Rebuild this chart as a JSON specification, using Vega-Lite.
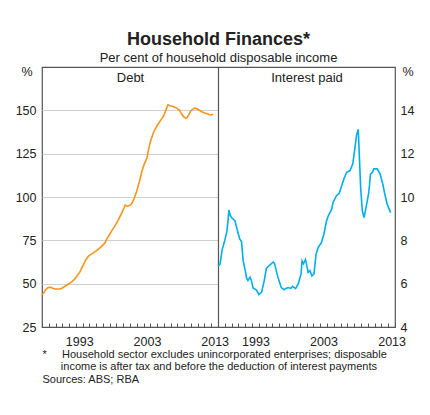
{
  "$schema": "https://vega.github.io/schema/vega-lite/v6.json",
  "autosize": {"type": "none"},
  "width": 353,
  "height": 260,
  "padding": {"left": 42, "top": 67, "right": 35, "bottom": 88},
  "background": "white",
  "title": {
    "text": "Household Finances*",
    "subtitle": "Per cent of household disposable income",
    "anchor": "middle",
    "frame": "group",
    "font": "Liberation Sans",
    "fontSize": 18,
    "fontWeight": "bold",
    "color": "#222",
    "subtitleFont": "Liberation Sans",
    "subtitleFontSize": 13,
    "subtitleColor": "#222",
    "subtitlePadding": 3,
    "offset": 0
  },
  "datasets": {
    "debt": [
      {"year": 1988.0, "value": 43.8}, {"year": 1988.25, "value": 44.6}, {"year": 1988.5, "value": 46.3},
      {"year": 1988.8, "value": 47.5}, {"year": 1989.2, "value": 48.0}, {"year": 1989.6, "value": 47.3},
      {"year": 1989.9, "value": 46.9}, {"year": 1990.3, "value": 46.9}, {"year": 1990.7, "value": 46.9},
      {"year": 1991.0, "value": 47.5}, {"year": 1991.4, "value": 48.5}, {"year": 1991.8, "value": 49.5},
      {"year": 1992.4, "value": 51.0}, {"year": 1992.8, "value": 52.5}, {"year": 1993.1, "value": 54.0},
      {"year": 1993.6, "value": 56.8}, {"year": 1994.0, "value": 60.0}, {"year": 1994.5, "value": 64.0},
      {"year": 1994.9, "value": 66.0}, {"year": 1995.3, "value": 67.0}, {"year": 1995.8, "value": 68.3},
      {"year": 1996.3, "value": 69.8}, {"year": 1996.8, "value": 71.5}, {"year": 1997.3, "value": 73.5},
      {"year": 1997.6, "value": 76.0}, {"year": 1998.0, "value": 78.5}, {"year": 1998.3, "value": 80.5},
      {"year": 1998.8, "value": 83.5}, {"year": 1999.3, "value": 87.0}, {"year": 1999.8, "value": 91.0},
      {"year": 2000.1, "value": 93.5}, {"year": 2000.3, "value": 95.3}, {"year": 2000.6, "value": 94.7},
      {"year": 2001.0, "value": 95.2}, {"year": 2001.3, "value": 96.5}, {"year": 2001.6, "value": 99.0},
      {"year": 2002.0, "value": 103.5}, {"year": 2002.4, "value": 109.0}, {"year": 2002.7, "value": 114.0},
      {"year": 2003.1, "value": 119.0}, {"year": 2003.5, "value": 122.5}, {"year": 2003.8, "value": 128.5},
      {"year": 2004.1, "value": 133.0}, {"year": 2004.5, "value": 137.5}, {"year": 2004.9, "value": 140.5},
      {"year": 2005.3, "value": 143.0}, {"year": 2005.7, "value": 145.2}, {"year": 2006.0, "value": 147.0},
      {"year": 2006.3, "value": 150.0}, {"year": 2006.6, "value": 153.2}, {"year": 2006.9, "value": 152.6},
      {"year": 2007.2, "value": 152.5}, {"year": 2007.6, "value": 151.8}, {"year": 2007.9, "value": 151.3},
      {"year": 2008.3, "value": 150.2}, {"year": 2008.6, "value": 148.0}, {"year": 2008.9, "value": 146.4},
      {"year": 2009.2, "value": 145.6}, {"year": 2009.4, "value": 145.6}, {"year": 2009.7, "value": 147.5},
      {"year": 2010.0, "value": 149.8}, {"year": 2010.5, "value": 151.3}, {"year": 2010.8, "value": 151.0},
      {"year": 2011.2, "value": 150.2}, {"year": 2011.6, "value": 149.2}, {"year": 2012.0, "value": 148.5},
      {"year": 2012.4, "value": 148.0}, {"year": 2012.8, "value": 147.5}, {"year": 2013.0, "value": 147.3},
      {"year": 2013.3, "value": 147.8}
    ],
    "interest": [
      {"year": 1988.0, "value": 6.8}, {"year": 1988.3, "value": 6.9}, {"year": 1988.6, "value": 7.55},
      {"year": 1989.0, "value": 8.0}, {"year": 1989.3, "value": 8.4}, {"year": 1989.5, "value": 9.0},
      {"year": 1989.6, "value": 9.4}, {"year": 1989.8, "value": 9.15}, {"year": 1990.0, "value": 9.05},
      {"year": 1990.5, "value": 8.9}, {"year": 1990.85, "value": 8.45}, {"year": 1991.2, "value": 8.05},
      {"year": 1991.45, "value": 7.95}, {"year": 1991.7, "value": 7.05}, {"year": 1992.0, "value": 6.6},
      {"year": 1992.2, "value": 6.25}, {"year": 1992.4, "value": 6.15}, {"year": 1992.7, "value": 6.3},
      {"year": 1992.9, "value": 6.15}, {"year": 1993.15, "value": 5.8}, {"year": 1993.65, "value": 5.7},
      {"year": 1994.0, "value": 5.5}, {"year": 1994.4, "value": 5.6}, {"year": 1994.8, "value": 6.15},
      {"year": 1995.1, "value": 6.7}, {"year": 1995.6, "value": 6.86}, {"year": 1996.1, "value": 7.0},
      {"year": 1996.3, "value": 6.94}, {"year": 1996.8, "value": 6.3}, {"year": 1997.3, "value": 5.82},
      {"year": 1997.7, "value": 5.72}, {"year": 1998.0, "value": 5.78}, {"year": 1998.3, "value": 5.82},
      {"year": 1998.7, "value": 5.78}, {"year": 1998.95, "value": 5.88}, {"year": 1999.4, "value": 5.77},
      {"year": 1999.8, "value": 6.0}, {"year": 2000.2, "value": 6.45}, {"year": 2000.35, "value": 7.05},
      {"year": 2000.55, "value": 6.92}, {"year": 2000.85, "value": 7.12}, {"year": 2001.25, "value": 6.52},
      {"year": 2001.5, "value": 6.6}, {"year": 2001.8, "value": 6.36}, {"year": 2002.1, "value": 6.45},
      {"year": 2002.4, "value": 7.35}, {"year": 2002.7, "value": 7.66}, {"year": 2003.2, "value": 7.9},
      {"year": 2003.55, "value": 8.28}, {"year": 2003.95, "value": 8.9}, {"year": 2004.2, "value": 9.13},
      {"year": 2004.7, "value": 9.44}, {"year": 2004.9, "value": 9.75}, {"year": 2005.4, "value": 10.06},
      {"year": 2005.8, "value": 10.17}, {"year": 2006.1, "value": 10.45}, {"year": 2006.5, "value": 10.84},
      {"year": 2006.9, "value": 11.14}, {"year": 2007.4, "value": 11.22}, {"year": 2007.8, "value": 11.53},
      {"year": 2008.1, "value": 12.23}, {"year": 2008.35, "value": 12.85}, {"year": 2008.6, "value": 13.12},
      {"year": 2008.75, "value": 12.0}, {"year": 2008.95, "value": 10.45}, {"year": 2009.2, "value": 9.36},
      {"year": 2009.45, "value": 9.05}, {"year": 2009.8, "value": 9.6}, {"year": 2010.15, "value": 10.21},
      {"year": 2010.4, "value": 11.07}, {"year": 2010.7, "value": 11.14}, {"year": 2010.9, "value": 11.3},
      {"year": 2011.4, "value": 11.3}, {"year": 2011.8, "value": 11.07}, {"year": 2012.2, "value": 10.6},
      {"year": 2012.5, "value": 10.14}, {"year": 2012.85, "value": 9.67}, {"year": 2013.35, "value": 9.28}
    ]
  },
  "layer": [
    {
      "data": {"name": "debt"},
      "mark": {"type": "line", "color": "#f7941d", "strokeWidth": 1.6},
      "encoding": {
        "x": {
          "field": "year", "type": "quantitative",
          "scale": {"domain": [1988, 2014], "range": [0, 176], "nice": false, "zero": false},
          "axis": {
            "orient": "bottom",
            "values": [1988, 1989, 1990, 1991, 1992, 1993, 1994, 1995, 1996, 1997, 1998, 1999, 2000, 2001, 2002, 2003, 2004, 2005, 2006, 2007, 2008, 2009, 2010, 2011, 2012, 2013, 2014],
            "format": "d",
            "labelExpr": "datum.value == 1993 || datum.value == 2003 || datum.value == 2013 ? datum.label : ''",
            "labelOffset": 3.4,
            "labelFlush": false, "labelOverlap": false, "labelBound": false,
            "labelPadding": 12,
            "tickSize": -4, "tickColor": "#555",
            "domain": false, "grid": false,
            "title": [
              "*\u00a0\u00a0\u00a0\u00a0\u00a0Household sector excludes unincorporated enterprises; disposable",
              "\u200b\u00a0\u00a0\u00a0\u00a0\u00a0\u00a0income is after tax and before the deduction of interest payments",
              "Sources: ABS; RBA"
            ],
            "titleAnchor": "start", "titleAlign": "left", "titleBaseline": "top",
            "titleX": 0, "titleY": 21,
            "titleFontSize": 11, "titleFontWeight": "normal", "titleLineHeight": 12.5
          }
        },
        "y": {
          "field": "value", "type": "quantitative",
          "scale": {"domain": [25, 175], "nice": false, "zero": false},
          "axis": {
            "orient": "left",
            "values": [25, 50, 75, 100, 125, 150, 175],
            "labelExpr": "datum.value == 175 ? '%' : datum.label",
            "labelOffset": {"condition": {"test": "datum.value == 175", "value": 4}, "value": 0},
            "labelPadding": {"condition": {"test": "datum.value == 175", "value": 10}, "value": 6},
            "ticks": false, "domain": false,
            "grid": true, "gridColor": "#d0d0d0",
            "gridOpacity": {"condition": {"test": "datum.value == 25 || datum.value == 175", "value": 0}, "value": 1},
            "title": "Debt", "titleAngle": 0, "titleAlign": "center", "titleBaseline": "top",
            "titleX": 88, "titleY": 4, "titleFontSize": 13, "titleFontWeight": "normal"
          }
        }
      }
    },
    {
      "data": {"name": "interest"},
      "mark": {"type": "line", "color": "#00aeef", "strokeWidth": 1.6},
      "encoding": {
        "x": {
          "field": "year", "type": "quantitative",
          "scale": {"domain": [1988, 2014], "range": [176, 353], "nice": false, "zero": false},
          "axis": {
            "orient": "bottom",
            "values": [1988, 1989, 1990, 1991, 1992, 1993, 1994, 1995, 1996, 1997, 1998, 1999, 2000, 2001, 2002, 2003, 2004, 2005, 2006, 2007, 2008, 2009, 2010, 2011, 2012, 2013, 2014],
            "format": "d",
            "labelExpr": "datum.value == 1993 || datum.value == 2003 || datum.value == 2013 ? datum.label : ''",
            "labelOffset": 3.4,
            "labelFlush": false, "labelOverlap": false, "labelBound": false,
            "labelPadding": 12,
            "tickSize": {"condition": {"test": "datum.value == 1988", "value": -260}, "value": -4},
            "tickWidth": {"condition": {"test": "datum.value == 1988", "value": 1.2}, "value": 1},
            "tickColor": "#555",
            "domain": false, "grid": false,
            "title": null
          }
        },
        "y": {
          "field": "value", "type": "quantitative",
          "scale": {"domain": [4, 16], "nice": false, "zero": false},
          "axis": {
            "orient": "right",
            "values": [4, 6, 8, 10, 12, 14, 16],
            "labelExpr": "datum.value == 16 ? '%' : datum.label",
            "labelOffset": {"condition": {"test": "datum.value == 16", "value": 4}, "value": 0},
            "labelPadding": {"condition": {"test": "datum.value == 16", "value": 7}, "value": 5},
            "ticks": false, "domain": false, "grid": false,
            "title": "Interest paid", "titleAngle": 0, "titleAlign": "center", "titleBaseline": "top",
            "titleX": -88.5, "titleY": 4, "titleFontSize": 13, "titleFontWeight": "normal"
          }
        }
      }
    }
  ],
  "resolve": {
    "scale": {"x": "independent", "y": "independent"},
    "axis": {"x": "independent", "y": "independent"}
  },
  "config": {
    "font": "Liberation Sans",
    "view": {"stroke": "#555", "strokeWidth": 1.2},
    "axis": {
      "labelFont": "Liberation Sans",
      "labelFontSize": 12.5,
      "labelColor": "#222",
      "titleFont": "Liberation Sans",
      "titleColor": "#222"
    }
  }
}
